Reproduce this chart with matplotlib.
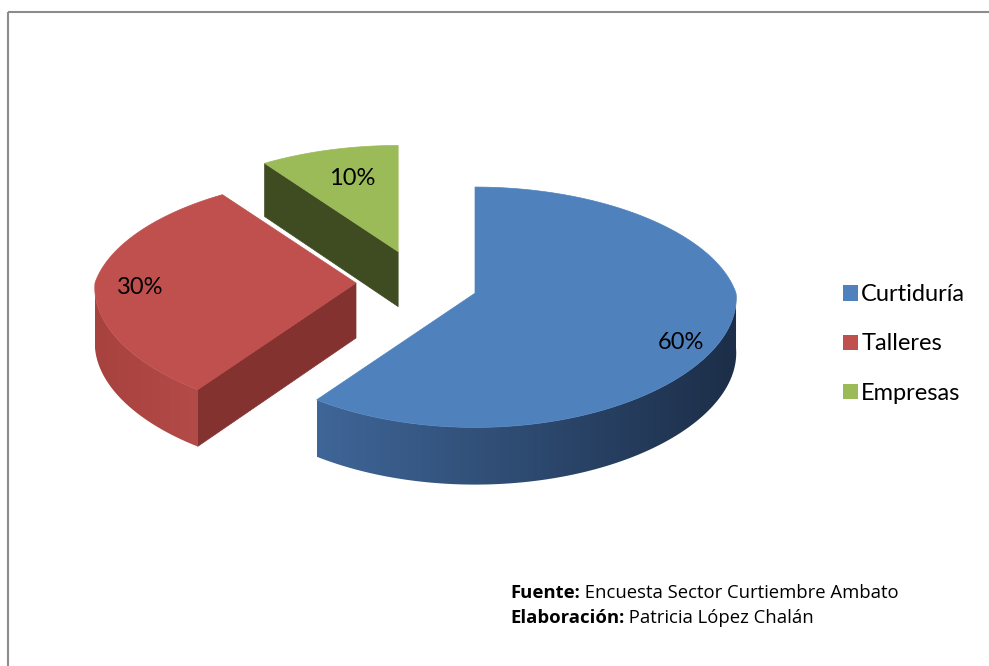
import numpy as np
import matplotlib.pyplot as plt
from matplotlib.colors import to_rgb
from matplotlib.patches import Polygon, Patch

categories = ['Curtiduría', 'Talleres', 'Empresas']
values = [60, 30, 10]
top_colors = ['#4F81BD', '#C0504D', '#9BBB59']
# side shading: (rim at screen left, rim at screen right, cut face)
side_colors = [
    ('#3F6698', '#1C2E48', '#2B4466'),
    ('#A8423F', '#B34B48', '#833230'),
    ('#6E8A3C', '#6E8A3C', '#3F4C22'),
]
# small nudges for the percentage labels (pixels)
label_nudge = [(5, 18), (-7, 4), (9, 8)]

fig = plt.figure(figsize=(9.89, 6.66), dpi=100)
ax = fig.add_axes([0, 0, 1, 1])

# pie geometry in pixel units
cx, cy = 417, 283
A, B = 261, 122
kx_far, kx_near = 0.16, 0.04
ky_far, ky_near = 0.13, 0.10
D = 55
Ex, Ey = 61, 33


def rim(th, apex):
    v = np.cos(th)
    sx = 1 - (kx_far if v > 0 else kx_near) * v
    sy = 1 - (ky_far if v > 0 else ky_near) * v
    return np.array([apex[0] + A * np.sin(th) * sx, apex[1] - B * v * sy])


def down(p, th=None):
    s = 1.0 if th is None else 1 - 0.04 * np.cos(th)
    return np.array([p[0], p[1] + D * s])


total = sum(values)
fracs = np.array(values) / total
edges = np.concatenate([[0], np.cumsum(fracs)]) * 2 * np.pi

z = 1
# draw back to front: last slice sits at the back
for i in [2, 1, 0]:
    t0, t1 = edges[i], edges[i + 1]
    mid = (t0 + t1) / 2
    apex = np.array([cx + Ex * np.sin(mid), cy - Ey * np.cos(mid)])
    left_c, right_c, cut_c = side_colors[i]

    # cut faces that point towards the viewer
    for t, visible in [(t0, np.sin(t0) < -1e-6), (t1, np.sin(t1) > 1e-6)]:
        if visible:
            p = rim(t, apex)
            ax.add_patch(Polygon([apex, p, down(p, t), down(apex)], closed=True,
                                 facecolor=cut_c, edgecolor=cut_c, lw=0.5, zorder=z))
            z += 1

    # outer curved wall, front half only, shaded left to right
    a0, a1 = max(t0, np.pi / 2), min(t1, 3 * np.pi / 2)
    if a1 > a0:
        ts = np.linspace(a0, a1, 120)
        upper = [rim(t, apex) for t in ts]
        lower = [down(rim(t, apex), t) for t in ts]
        wall = np.array(upper + lower[::-1])
        xmin, xmax = wall[:, 0].min(), wall[:, 0].max()
        ymin, ymax = wall[:, 1].min(), wall[:, 1].max()
        g = np.linspace(0, 1, 256)[:, None]
        grad = np.array(to_rgb(left_c)) * (1 - g) + np.array(to_rgb(right_c)) * g
        img = np.repeat(grad[None, :, :], 2, axis=0)
        patch = Polygon(wall, closed=True, facecolor='none', edgecolor='none')
        ax.add_patch(patch)
        im = ax.imshow(img, extent=[xmin, xmax, ymax, ymin], aspect='auto',
                       interpolation='bilinear', zorder=z)
        im.set_clip_path(patch)
        z += 1

    # top face
    ts = np.linspace(t0, t1, 200)
    pts = [apex] + [rim(t, apex) for t in ts]
    ax.add_patch(Polygon(pts, closed=True, facecolor=top_colors[i],
                         edgecolor=top_colors[i], lw=0.5, zorder=z))
    z += 1

    # percentage label
    lp = apex + 0.8 * (rim(mid, apex) - apex) + np.array(label_nudge[i])
    ax.text(lp[0], lp[1], f'{fracs[i] * 100:.0f}%', ha='center', va='center',
            fontsize=17, family='Lato', color='black', zorder=50)

ax.set_xlim(0, 989)
ax.set_ylim(666, 0)
ax.set_aspect('auto')
ax.axis('off')

handles = [Patch(facecolor=c, edgecolor='none') for c in top_colors]
fig.legend(handles, categories, loc='center left', bbox_to_anchor=(843 / 989, 1 - 344 / 666),
           frameon=False, prop={'family': 'Lato', 'size': 17},
           handlelength=0.62, handleheight=0.62, handletextpad=0.15, labelspacing=1.2,
           borderaxespad=0, borderpad=0)

# frame lines
ax.plot([8, 989], [12, 12], color='#8C8C8C', lw=1.5, solid_capstyle='butt')
ax.plot([8, 8], [12, 666], color='#8C8C8C', lw=1.5, solid_capstyle='butt')

# source notes
n1 = ax.text(510, 598, 'Fuente:', fontsize=13.3, family='Open Sans', fontweight='bold', va='baseline')
ax.annotate(' Encuesta Sector Curtiembre Ambato', xy=(1, 0), xycoords=n1,
            fontsize=13.3, family='Open Sans', va='bottom')
n2 = ax.text(510, 623, 'Elaboración:', fontsize=13.3, family='Open Sans', fontweight='bold', va='baseline')
ax.annotate(' Patricia López Chalán', xy=(1, 0), xycoords=n2,
            fontsize=13.3, family='Open Sans', va='bottom')

fig.savefig('out.png', dpi=100, facecolor='white')
